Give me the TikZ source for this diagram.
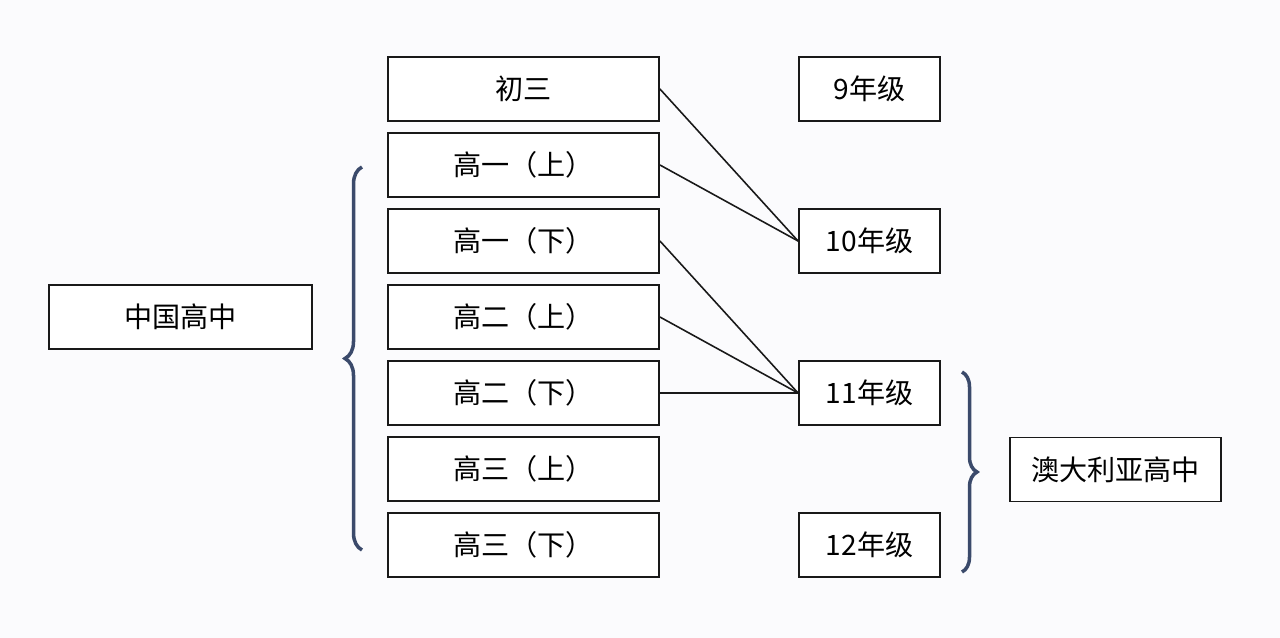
\documentclass[tikz,border=0pt]{standalone}
\usepackage{fontspec}
\setmainfont{Noto Sans CJK SC}
\usetikzlibrary{decorations.pathreplacing,calc,positioning}
\definecolor{bracecol}{HTML}{3B4A6B}
\definecolor{bgcol}{HTML}{FBFBFD}
\tikzset{
  box/.style={draw=black!90,line width=1.1pt,fill=white,inner sep=0pt,
    minimum height=1.28cm,font=\fontsize{16}{18}\selectfont},
  midbox/.style={box,minimum width=5.42cm},
  gradebox/.style={box,minimum width=2.82cm},
  link/.style={black!90,line width=0.9pt},
  bigbrace/.style={bracecol,line width=2pt,decorate,
    decoration={brace,amplitude=0.34cm}}
}

\begin{document}
\begin{tikzpicture}[x=0.02cm,y=-0.02cm]
% Background.
\fill[bgcol] (0,0) rectangle (1280,638);
\useasboundingbox (0,0) rectangle (1280,638);

% Draw Chinese school years.
\foreach \name/\txt/\y in {c3/初三/89,g1a/高一（上）/165,g1b/高一（下）/241,
  g2a/高二（上）/317,g2b/高二（下）/393,g3a/高三（上）/469,g3b/高三（下）/545}
\node[midbox] (\name) at (523.5,\y) {\txt};

% Draw Australian grades.
\foreach \name/\txt/\y in {y9/9年级/89,y10/10年级/241,y11/11年级/393,y12/12年级/545}
\node[gradebox] (\name) at (869.5,\y) {\txt};

% Draw the two school systems.
\node[box,minimum width=5.26cm] (cn) at (180.5,317) {中国高中};
\node[box,minimum width=4.22cm] (au) at (1115.5,469.5) {澳大利亚高中};

% Draw braces.
\coordinate (cnbot) at (362,550);
\coordinate (cntop) at (362,167);
\draw[bigbrace] (cnbot) -- (cntop);
\coordinate (autop) at (962,372);
\coordinate (aubot) at (962,572);
\draw[bigbrace,decoration={amplitude=0.3cm}] (autop) -- (aubot);

% Draw links between years.
\draw[link] (c3.east) -- (y10.west);
\draw[link] (g1a.east) -- (y10.west);
\draw[link] (g1b.east) -- (y11.west);
\draw[link] (g2a.east) -- (y11.west);
\draw[link] (g2b.east) -- (y11.west);
\end{tikzpicture}
\end{document}
